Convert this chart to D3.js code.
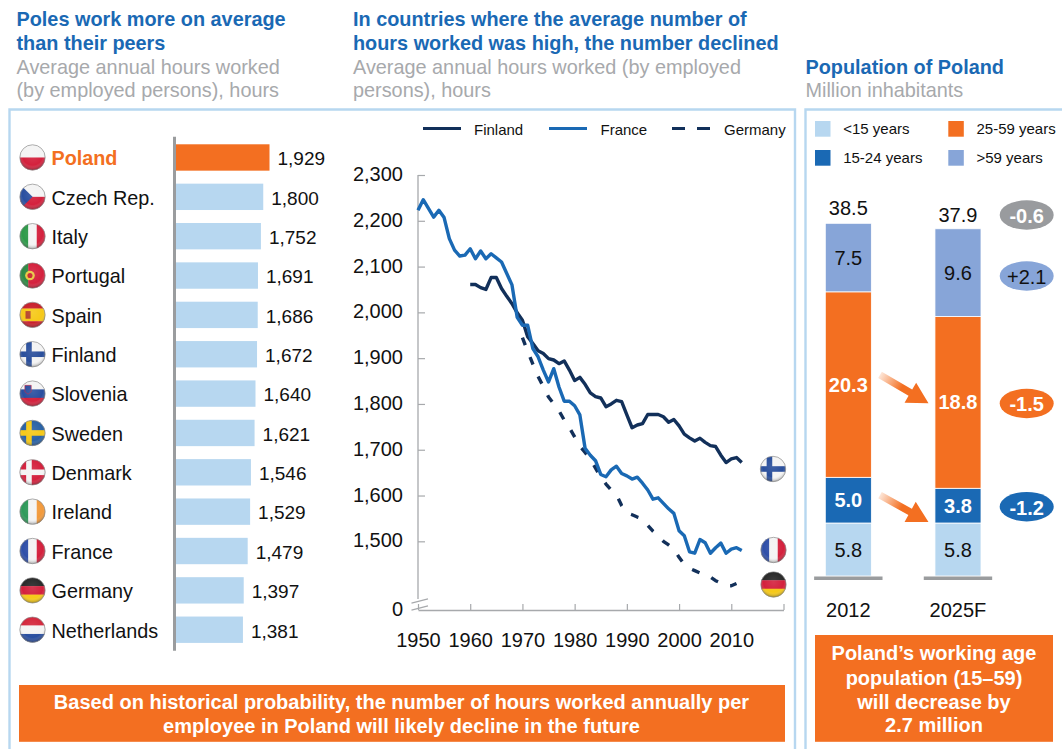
<!DOCTYPE html>
<html>
<head>
<meta charset="utf-8">
<script src="https://cdn.jsdelivr.net/npm/d3@7"></script>
<style>
  html, body { margin: 0; padding: 0; background: #fff; overflow: hidden; }
  svg { display: block; font-family: "Liberation Sans", Arial, sans-serif; }
</style>
</head>
<body>
<div id="chart"></div>
<script>
'use strict';

// Hours worked per country, 2012
var countries = ['Poland', 'Czech Rep.', 'Italy', 'Portugal', 'Spain', 'Finland', 'Slovenia', 'Sweden', 'Denmark', 'Ireland', 'France', 'Germany', 'Netherlands'];
var countryHours = [1929, 1800, 1752, 1691, 1686, 1672, 1640, 1621, 1546, 1529, 1479, 1397, 1381];

// Hours worked over time
var franceStart = 1950;
var franceHours = [2223, 2246, 2227, 2208, 2223, 2207, 2161, 2136, 2123, 2125, 2139, 2117, 2134, 2117, 2128, 2119, 2110, 2085, 2060, 1989, 1972, 1972, 1921, 1903, 1874, 1848, 1877, 1837, 1806, 1806, 1796, 1776, 1703, 1688, 1676, 1646, 1641, 1656, 1664, 1648, 1643, 1636, 1640, 1627, 1612, 1592, 1595, 1583, 1571, 1561, 1523, 1512, 1477, 1474, 1504, 1497, 1474, 1486, 1496, 1474, 1483, 1486, 1480];
var finlandStart = 1960;
var finlandHours = [2061, 2061, 2054, 2050, 2076, 2076, 2052, 2035, 2019, 1999, 1983, 1947, 1932, 1916, 1910, 1899, 1896, 1888, 1894, 1874, 1851, 1858, 1843, 1824, 1816, 1813, 1794, 1800, 1808, 1805, 1776, 1748, 1754, 1757, 1777, 1777, 1777, 1772, 1760, 1766, 1752, 1734, 1726, 1719, 1725, 1716, 1709, 1707, 1688, 1672, 1680, 1683, 1672];
var germanyStart = 1970;
var germanyHours = [1945, 1915, 1887, 1860, 1838, 1815, 1800, 1785, 1765, 1748, 1728, 1708, 1694, 1680, 1660, 1640, 1625, 1612, 1602, 1578, 1562, 1558, 1553, 1549, 1535, 1522, 1512, 1500, 1492, 1483, 1465, 1450, 1441, 1436, 1431, 1429, 1422, 1414, 1409, 1403, 1403, 1408];
var hourTicks = [0, 1500, 1600, 1700, 1800, 1900, 2000, 2100, 2200, 2300];
var yearTicks = [1950, 1960, 1970, 1980, 1990, 2000, 2010, 2020];

// Population of Poland, bottom segment first
var popYears = ['2012', '2025F'];
var ageGroups = ['<15 years', '15-24 years', '25-59 years', '>59 years'];
var pop2012 = [5.8, 5.0, 20.3, 7.5];
var pop2025 = [5.8, 3.8, 18.8, 9.6];
var popTotals = [38.5, 37.9];
var changeLabels = ['-0.6', '+2.1', '-1.5', '-1.2'];

var ORANGE = '#f36f21', BLUE = '#1a69b4', NAVY = '#12305a', PALE = '#b7d7f0', PERI = '#87a5d8', GREY = '#999b9e';
var ageColors = [PALE, BLUE, ORANGE, PERI];
var ageText = ['#111', '#fff', '#fff', '#111'];

// flag stripes: dir, colours
var flags = {
  'Poland': ['h', '#f4f4f4', '#d4213d'],
  'Czech Rep.': ['h', '#f4f4f4', '#d4213d'],
  'Italy': ['v', '#2f9a4a', '#f4f4f4', '#d4213d'],
  'Portugal': ['v', '#2f8a45', '#d4213d', '#d4213d'],
  'Spain': ['h', '#c8202c', '#f6c918', '#f6c918', '#c8202c'],
  'Finland': ['h', '#f4f4f4'],
  'Slovenia': ['h', '#f4f4f4', '#2a4fa0', '#d4213d'],
  'Sweden': ['h', '#2a62a5'],
  'Denmark': ['h', '#d4213d'],
  'Ireland': ['v', '#2f9a5a', '#f4f4f4', '#f29a3c'],
  'France': ['v', '#2f4fa8', '#f4f4f4', '#d4213d'],
  'Germany': ['h', '#2a2a2a', '#d4213d', '#f6c918'],
  'Netherlands': ['h', '#d4283d', '#f4f4f4', '#2a4fa0']
};
var crosses = { 'Finland': '#2a4f9c', 'Sweden': '#f6c918', 'Denmark': '#f4f4f4' };

var width = 1062, height = 749;
var svg = d3.select('#chart').append('svg').attr('width', width).attr('height', height);
var defs = svg.append('defs');

var gloss = defs.append('radialGradient').attr('id', 'gloss').attr('cx', '50%').attr('cy', '40%').attr('r', '62%');
gloss.append('stop').attr('offset', '0%').attr('stop-color', '#fff').attr('stop-opacity', 0.1);
gloss.append('stop').attr('offset', '65%').attr('stop-color', '#fff').attr('stop-opacity', 0);
gloss.append('stop').attr('offset', '100%').attr('stop-color', '#000').attr('stop-opacity', 0.42);

var flagCount = 0;
function drawFlag(parent, name, cx, cy, r) {
  var spec = flags[name], id = 'clip' + (flagCount++);
  defs.append('clipPath').attr('id', id).append('circle').attr('r', r);
  var g = parent.append('g').attr('transform', 'translate(' + cx + ',' + cy + ')');
  var inner = g.append('g').attr('clip-path', 'url(#' + id + ')');
  var cols = spec.slice(1), step = 2 * r / cols.length;
  cols.forEach(function(c, i) {
    if (spec[0] == 'h') {
      inner.append('rect').attr('x', -r).attr('y', -r + i * step).attr('width', 2 * r).attr('height', step + 0.3).attr('fill', c);
    } else {
      inner.append('rect').attr('x', -r + i * step).attr('y', -r).attr('width', step + 0.3).attr('height', 2 * r).attr('fill', c);
    }
  });
  if (crosses[name]) {
    inner.append('rect').attr('x', -r).attr('y', -r * 0.22).attr('width', 2 * r).attr('height', r * 0.44).attr('fill', crosses[name]);
    inner.append('rect').attr('x', -r * 0.5).attr('y', -r).attr('width', r * 0.44).attr('height', 2 * r).attr('fill', crosses[name]);
  }
  if (name == 'Czech Rep.') {
    inner.append('path').attr('d', 'M' + -r + ',' + -r + 'L0,0L' + -r + ',' + r + 'Z').attr('fill', '#2a4fa0');
  }
  if (name == 'Portugal') {
    inner.append('circle').attr('cx', -r * 0.2).attr('r', r * 0.38).attr('fill', '#e8c840');
    inner.append('circle').attr('cx', -r * 0.2).attr('r', r * 0.2).attr('fill', '#c8202c');
  }
  if (name == 'Spain') {
    inner.append('rect').attr('x', -r * 0.55).attr('y', -r * 0.3).attr('width', r * 0.4).attr('height', r * 0.6).attr('fill', '#b5432a');
  }
  if (name == 'Slovenia') {
    inner.append('path').attr('d', 'M' + -r * 0.6 + ',' + -r * 0.65 + 'h' + r * 0.5 + 'v' + r * 0.5 + 'l' + -r * 0.25 + ',' + r * 0.2 + 'l' + -r * 0.25 + ',' + -r * 0.2 + 'Z').attr('fill', '#2a4fa0').attr('stroke', '#d4213d').attr('stroke-width', 0.6);
  }
  g.append('circle').attr('r', r).attr('fill', 'url(#gloss)').attr('stroke', '#8b8b8b').attr('stroke-width', 0.7);
}

function textLines(lines, x, ys, size, weight, color, anchor) {
  lines.forEach(function(t, i) {
    svg.append('text').attr('x', x).attr('y', ys[i]).attr('font-size', size).attr('font-weight', weight)
      .attr('fill', color).attr('text-anchor', anchor || 'start').text(t);
  });
}

// Headings
textLines(['Poles work more on average', 'than their peers'], 16.5, [25.5, 49.5], 19.85, 'bold', BLUE);
textLines(['Average annual hours worked', '(by employed persons), hours'], 16.5, [73.5, 96.5], 19.85, 'normal', '#a7a9ac');
textLines(['In countries where the average number of', 'hours worked was high, the number declined'], 353, [25.5, 49.5], 19.85, 'bold', BLUE);
textLines(['Average annual hours worked (by employed', 'persons), hours'], 353, [73.5, 96.5], 19.85, 'normal', '#a7a9ac');
textLines(['Population of Poland'], 805.5, [73.5], 19.85, 'bold', BLUE);
textLines(['Million inhabitants'], 805.5, [96.5], 19.85, 'normal', '#a7a9ac');

// Panels, open at the bottom
var panelPath = d3.path();
panelPath.moveTo(9.5, height); panelPath.lineTo(9.5, 109.5); panelPath.lineTo(795, 109.5); panelPath.lineTo(795, height);
svg.append('path').attr('d', panelPath.toString()).attr('fill', 'none').attr('stroke', PALE).attr('stroke-width', 2.4);
var panelPath2 = d3.path();
panelPath2.moveTo(805.5, height); panelPath2.lineTo(805.5, 109.5); panelPath2.lineTo(width + 3, 109.5);
svg.append('path').attr('d', panelPath2.toString()).attr('fill', 'none').attr('stroke', PALE).attr('stroke-width', 2.4);

// Left: bars
var barX = d3.scaleLinear().domain([0, 1929]).range([176, 269.5]);
var barY = d3.scaleBand().domain(countries).range([137.8, 649.4]).paddingInner(0.33).paddingOuter(0.165);
var barG = svg.append('g');

barG.selectAll('rect.bar').data(countries).enter().append('rect')
  .attr('class', 'bar')
  .attr('x', barX(0))
  .attr('y', function(d) { return barY(d); })
  .attr('width', function(d, i) { return barX(countryHours[i]) - barX(0); })
  .attr('height', barY.bandwidth())
  .attr('fill', function(d) { return d == 'Poland' ? ORANGE : PALE; });

barG.append('line').attr('x1', 174.5).attr('x2', 174.5).attr('y1', 136.7).attr('y2', 650.7)
  .attr('stroke', '#9a9c9e').attr('stroke-width', 3);

barG.selectAll('text.name').data(countries).enter().append('text')
  .attr('class', 'name')
  .attr('x', 51.5)
  .attr('y', function(d) { return barY(d) + barY.bandwidth() / 2 + 7.8; })
  .attr('font-size', 19.8)
  .attr('font-weight', function(d) { return d == 'Poland' ? 'bold' : 'normal'; })
  .attr('fill', function(d) { return d == 'Poland' ? ORANGE : '#111'; })
  .text(function(d) { return d; });

barG.selectAll('text.val').data(countries).enter().append('text')
  .attr('class', 'val')
  .attr('x', function(d, i) { return barX(countryHours[i]) + 8; })
  .attr('y', function(d) { return barY(d) + barY.bandwidth() / 2 + 7.8; })
  .attr('font-size', 19)
  .attr('fill', '#111')
  .text(function(d, i) { return d3.format(',')(countryHours[i]); });

countries.forEach(function(c) {
  drawFlag(barG, c, 32.5, barY(c) + barY.bandwidth() / 2, 12.7);
});

// Middle: lines. The y axis is broken between 0 and 1,350
var lineX = d3.scaleLinear().domain([1950, 2020]).range([418, 783.5]);
var lineY = d3.scaleLinear().domain([0, 1350, 2300]).range([610, 610, 175]);
var lineG = svg.append('g');

var yAxis = d3.axisLeft(lineY).tickValues(hourTicks).tickFormat(d3.format(',')).tickSize(-7).tickPadding(15);
var yG = lineG.append('g').attr('transform', 'translate(418,0)').call(yAxis);
yG.select('.domain').remove();
yG.selectAll('.tick').filter(function(d) { return d === 0; }).select('line').remove();
yG.selectAll('.tick line').attr('stroke', '#a7a9ac').attr('stroke-width', 1.2);
yG.selectAll('text').attr('font-size', 20).attr('font-family', 'inherit').attr('fill', '#111').attr('dy', '0.28em');
lineG.append('line').attr('x1', 418).attr('x2', 418).attr('y1', lineY(2300)).attr('y2', 599)
  .attr('stroke', '#a7a9ac').attr('stroke-width', 1.3);
[603.2, 610.2].forEach(function(y) {
  lineG.append('line').attr('x1', 411.5).attr('x2', 428).attr('y1', y).attr('y2', y - 4.4)
    .attr('stroke', '#a7a9ac').attr('stroke-width', 1.2);
});

var xAxis = d3.axisBottom(lineX).tickValues(yearTicks).tickSizeInner(-6).tickSizeOuter(0).tickPadding(23)
  .tickFormat(function(d) { return d == 2020 ? '' : String(d); });
var xG = lineG.append('g').attr('transform', 'translate(0,610)').call(xAxis);
xG.select('.domain').attr('stroke', '#a7a9ac').attr('stroke-width', 1.3);
xG.selectAll('.tick line').attr('stroke', '#a7a9ac').attr('stroke-width', 1.2);
xG.selectAll('text').attr('font-size', 20).attr('font-family', 'inherit').attr('fill', '#111');

function hoursLine(start) {
  return d3.line()
    .x(function(d, i) { return lineX(start + i); })
    .y(function(d) { return lineY(d); });
}

var seriesList = [
  { name: 'Germany', start: germanyStart, values: germanyHours, color: NAVY, dash: '8 13' },
  { name: 'Finland', start: finlandStart, values: finlandHours, color: NAVY, dash: null },
  { name: 'France', start: franceStart, values: franceHours, color: BLUE, dash: null }
];
seriesList.forEach(function(s) {
  lineG.append('path').attr('d', hoursLine(s.start)(s.values))
    .attr('fill', 'none').attr('stroke', s.color).attr('stroke-width', 3.4)
    .attr('stroke-linejoin', 'round').attr('stroke-dasharray', s.dash);
});

drawFlag(lineG, 'Finland', 773, 469, 12.7);
drawFlag(lineG, 'France', 773.5, 550, 12.7);
drawFlag(lineG, 'Germany', 773.5, 584.5, 12.7);

// Line legend
[{ name: 'Finland', x: 423, tx: 474, color: NAVY, dash: null },
 { name: 'France', x: 549, tx: 600.5, color: BLUE, dash: null },
 { name: 'Germany', x: 672, tx: 724, color: NAVY, dash: '13 12' }].forEach(function(k) {
  lineG.append('line').attr('x1', k.x).attr('x2', k.x + 38).attr('y1', 128.5).attr('y2', 128.5)
    .attr('stroke', k.color).attr('stroke-width', 3).attr('stroke-dasharray', k.dash);
  lineG.append('text').attr('x', k.tx).attr('y', 134.5).attr('font-size', 15).attr('fill', '#111').text(k.name);
});

// Right: stacked bars
var popX = d3.scaleBand().domain(popYears).range([793.5, 1012.8]).paddingInner(0.58).paddingOuter(0.29);
var popY = d3.scaleLinear().domain([0, 38.6]).range([576, 223.3]);
var popG = svg.append('g');

var popRows = popYears.map(function(y, i) {
  var row = { year: y };
  ageGroups.forEach(function(a, j) { row[a] = (i == 0 ? pop2012 : pop2025)[j]; });
  return row;
});
var stacked = d3.stack().keys(ageGroups)(popRows);

stacked.forEach(function(layer, j) {
  popG.selectAll('rect.s' + j).data(layer).enter().append('rect')
    .attr('class', 's' + j)
    .attr('x', function(d) { return popX(d.data.year); })
    .attr('y', function(d) { return popY(d[1]); })
    .attr('width', popX.bandwidth())
    .attr('height', function(d) { return popY(d[0]) - popY(d[1]); })
    .attr('fill', ageColors[j])
    .attr('stroke', '#fff').attr('stroke-width', 0.8);
  popG.selectAll('text.s' + j).data(layer).enter().append('text')
    .attr('class', 's' + j)
    .attr('x', function(d) { return popX(d.data.year) + popX.bandwidth() / 2; })
    .attr('y', function(d) { return (popY(d[0]) + popY(d[1])) / 2 + 7; })
    .attr('text-anchor', 'middle')
    .attr('font-size', 20)
    .attr('font-weight', j == 1 || j == 2 ? 'bold' : 'normal')
    .attr('fill', ageText[j])
    .text(function(d) { return (d[1] - d[0]).toFixed(1); });
});

popYears.forEach(function(y, i) {
  var cx = popX(y) + popX.bandwidth() / 2;
  popG.append('rect').attr('x', cx - 34.2).attr('y', 576.5).attr('width', 68.4).attr('height', 3.5).attr('fill', '#9a9c9e');
  popG.append('text').attr('x', cx).attr('y', 617).attr('text-anchor', 'middle').attr('font-size', 20).attr('fill', '#111').text(y);
  popG.append('text').attr('x', cx).attr('y', popY(d3.sum(i == 0 ? pop2012 : pop2025)) - (i == 0 ? 8 : 7)).attr('text-anchor', 'middle')
    .attr('font-size', 20).attr('fill', '#111').text(popTotals[i].toFixed(1));
});

// Age legend
[[815, 121], [815, 150], [948.3, 121], [948.3, 150]].forEach(function(p, i) {
  popG.append('rect').attr('x', p[0]).attr('y', p[1]).attr('width', 15.5).attr('height', 15.7).attr('fill', ageColors[i]);
  popG.append('text').attr('x', p[0] + 28.2).attr('y', p[1] + 13.2).attr('font-size', 15).attr('fill', '#111').text(ageGroups[i]);
});

// Change ovals
var ovalY = [215, 276, 403.5, 506.7];
var ovalFill = [GREY, PERI, ORANGE, BLUE];
changeLabels.forEach(function(t, i) {
  popG.append('ellipse').attr('cx', 1026.7).attr('cy', ovalY[i]).attr('rx', 27).attr('ry', 14.7).attr('fill', ovalFill[i]);
  popG.append('text').attr('x', 1026.7).attr('y', ovalY[i] + 7.8).attr('text-anchor', 'middle').attr('font-size', 20)
    .attr('font-weight', i == 1 ? 'normal' : 'bold').attr('fill', i == 1 ? '#111' : '#fff').text(t);
});

// Arrows between the two bars, ends given in million inhabitants
var arrowEnds = [[22.0, 18.9], [8.85, 5.9]];
arrowEnds.forEach(function(e, i) {
  var x0 = 880, x1 = 928.5, y0 = popY(e[0]), y1 = popY(e[1]);
  var len = Math.sqrt((x1 - x0) * (x1 - x0) + (y1 - y0) * (y1 - y0));
  var ux = (x1 - x0) / len, uy = (y1 - y0) / len, nx = -uy, ny = ux;
  var headLen = 21, headW = 11.5, shaftW = 3.6;
  var nk = [x1 - ux * headLen, y1 - uy * headLen];
  var pts = [
    [x0 + nx * shaftW, y0 + ny * shaftW],
    [nk[0] + nx * shaftW, nk[1] + ny * shaftW],
    [nk[0] + nx * headW, nk[1] + ny * headW],
    [x1, y1],
    [nk[0] - nx * headW, nk[1] - ny * headW],
    [nk[0] - nx * shaftW, nk[1] - ny * shaftW],
    [x0 - nx * shaftW, y0 - ny * shaftW]
  ];
  var grad = defs.append('linearGradient').attr('id', 'arrow' + i).attr('gradientUnits', 'userSpaceOnUse')
    .attr('x1', x0).attr('y1', y0).attr('x2', x1).attr('y2', y1);
  grad.append('stop').attr('offset', '0%').attr('stop-color', '#fde6d8');
  grad.append('stop').attr('offset', '45%').attr('stop-color', ORANGE);
  popG.append('path').attr('d', d3.line()(pts) + 'Z').attr('fill', 'url(#arrow' + i + ')');
});

// Conclusion boxes
svg.append('rect').attr('x', 19).attr('y', 685).attr('width', 766).attr('height', 56.8).attr('fill', ORANGE);
textLines(['Based on historical probability, the number of hours worked annually per', 'employee in Poland will likely decline in the future'],
  401.5, [709, 733], 20, 'bold', '#fff', 'middle');
svg.append('rect').attr('x', 815).attr('y', 635).attr('width', 238).attr('height', 106.8).attr('fill', ORANGE);
textLines(['Poland\u2019s working age', 'population (15\u201359)', 'will decrease by', '2.7 million'],
  934, [659.5, 684.5, 708.5, 731.5], 20, 'bold', '#fff', 'middle');
</script>
</body>
</html>
